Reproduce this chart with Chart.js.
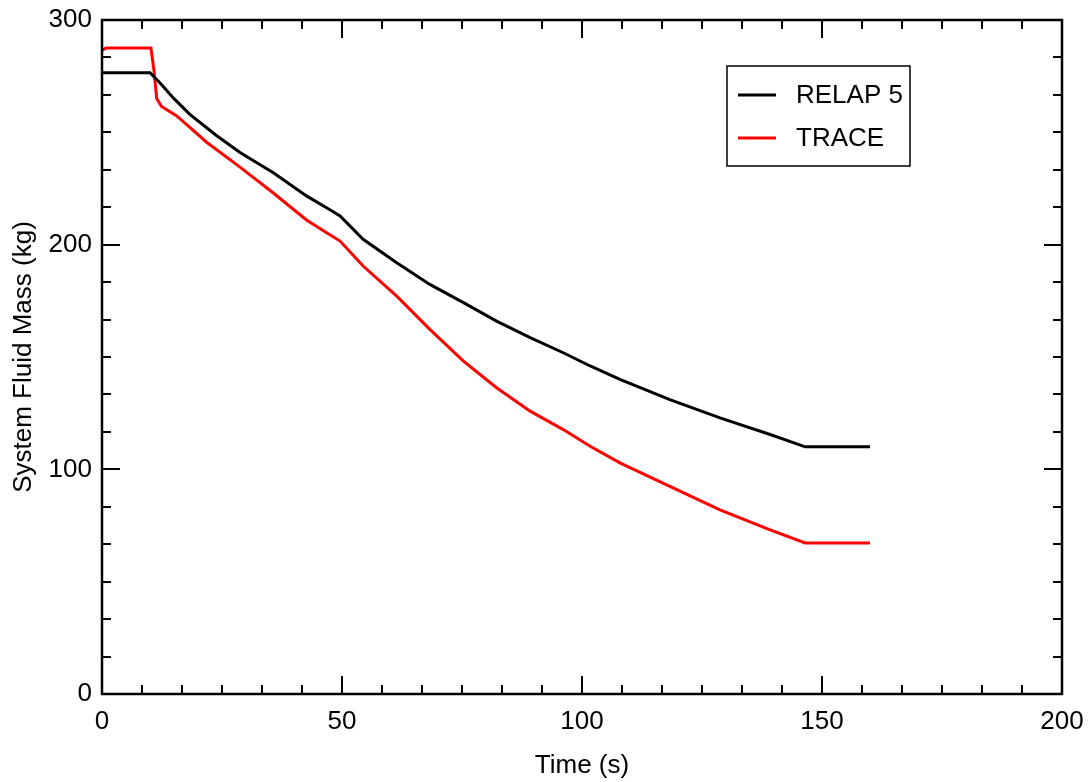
<!DOCTYPE html>
<html>
<head>
<meta charset="utf-8">
<script src="https://cdn.jsdelivr.net/npm/chart.js@4/dist/chart.umd.min.js"></script>
<style>
  html, body { margin: 0; padding: 0; background: #fff; }
  #wrap { width: 1089px; height: 782px; }
</style>
</head>
<body>
<div id="wrap"><canvas id="c" width="1089" height="782"></canvas></div>
<script>
// System fluid mass inventory vs. time, two code predictions
const relapTime = [0, 10, 12.1, 15, 18.3, 23.9, 28.75, 35.7, 42.6, 47.3, 49.6, 54.4, 61.4, 68.3, 75.3, 82.2, 89.2, 96.1, 101.7, 107.9, 118.3, 128.75, 139.2, 146.5, 160];
const relapMass = [276.5, 276.5, 272, 265, 258, 248.5, 241, 232, 221.7, 215.8, 212.8, 202.4, 192, 182.3, 174.2, 166, 158.6, 151.9, 146, 140, 131, 122.9, 115.5, 110, 110];

const traceTime = [0, 0.8, 10.2, 10.8, 11.4, 12.4, 15.5, 18.3, 21.8, 28.75, 35.7, 42.6, 47.3, 49.6, 54.4, 61.4, 68.3, 75.3, 82.2, 89.2, 96.1, 101.7, 107.9, 118.3, 128.75, 139.2, 146.5, 160];
const traceMass = [286.5, 287.5, 287.5, 278, 265, 261.5, 257.4, 252.2, 245.6, 234.5, 223, 211, 204.6, 201.6, 190.5, 177.1, 162.3, 148.2, 136.3, 125.9, 117.7, 110.3, 102.9, 92.4, 82, 73.1, 67.2, 67.2];

const seriesNames = ['RELAP 5', 'TRACE'];
const seriesColors = ['#000000', '#ff0000'];

const xTicks = [0, 50, 100, 150, 200];
const yTicks = [0, 100, 200, 300];

const FONT = "'Liberation Sans', Arial, sans-serif";

function toPoints(xs, ys) { return xs.map((x, i) => ({ x: x, y: ys[i] })); }

// Boxed frame with inward major/minor ticks on all four sides, plus the legend box
const framePlugin = {
  id: 'frame',
  afterDraw(chart) {
    const { ctx, chartArea: a, scales } = chart;
    const xs = scales.x, ys = scales.y;
    ctx.save();
    ctx.strokeStyle = '#000';
    ctx.lineWidth = 2;
    ctx.beginPath();
    const xMinorStep = 50 / 6;
    for (let i = 1; i < 24; i++) {
      const px = Math.round(xs.getPixelForValue(i * xMinorStep));
      const len = (i % 6 === 0) ? 18 : 9;
      ctx.moveTo(px, a.bottom); ctx.lineTo(px, a.bottom - len);
      ctx.moveTo(px, a.top); ctx.lineTo(px, a.top + len);
    }
    const yMinorStep = 100 / 6;
    for (let i = 1; i < 18; i++) {
      const py = Math.round(ys.getPixelForValue(i * yMinorStep));
      const len = (i % 6 === 0) ? 18 : 9;
      ctx.moveTo(a.left, py); ctx.lineTo(a.left + len, py);
      ctx.moveTo(a.right, py); ctx.lineTo(a.right - len, py);
    }
    ctx.stroke();
    ctx.lineWidth = 2.5;
    ctx.strokeRect(a.left, a.top, a.right - a.left, a.bottom - a.top);

    // legend box
    const bx = 727, by = 66, bw = 183, bh = 100;
    ctx.lineWidth = 1.5;
    ctx.strokeRect(bx, by, bw, bh);
    ctx.font = '26px ' + FONT;
    ctx.textBaseline = 'middle';
    ctx.textAlign = 'left';
    const rows = [95, 138];
    chart.data.datasets.forEach((ds, i) => {
      ctx.strokeStyle = ds.borderColor;
      ctx.lineWidth = 3;
      ctx.beginPath();
      ctx.moveTo(738, rows[i]); ctx.lineTo(776, rows[i]);
      ctx.stroke();
      ctx.fillStyle = '#000';
      ctx.fillText(ds.label, 796, rows[i] + 1);
    });
    ctx.restore();
  }
};

new Chart(document.getElementById('c'), {
  type: 'line',
  data: {
    datasets: [
      { label: seriesNames[0], data: toPoints(relapTime, relapMass), borderColor: seriesColors[0], borderWidth: 3, pointRadius: 0, tension: 0, fill: false },
      { label: seriesNames[1], data: toPoints(traceTime, traceMass), borderColor: seriesColors[1], borderWidth: 3, pointRadius: 0, tension: 0, fill: false }
    ]
  },
  options: {
    responsive: false,
    animation: false,
    devicePixelRatio: 1,
    layout: { padding: { left: 8, top: 20, right: 27, bottom: 0 } },
    plugins: { legend: { display: false }, tooltip: { enabled: false } },
    scales: {
      x: {
        type: 'linear', min: 0, max: 200,
        afterBuildTicks(s) { s.ticks = xTicks.map(v => ({ value: v })); },
        afterFit(s) { s.height = 88; s.paddingLeft = 0; s.paddingRight = 0; },
        grid: { display: false, drawTicks: false },
        border: { display: false },
        ticks: { color: '#000', padding: 12, font: { family: FONT, size: 26 }, maxRotation: 0 },
        title: { display: true, text: 'Time (s)', color: '#000', font: { family: FONT, size: 26 }, padding: { top: 0, bottom: 1 } }
      },
      y: {
        type: 'linear', min: 0, max: 300,
        afterBuildTicks(s) { s.ticks = yTicks.map(v => ({ value: v })); },
        afterFit(s) { s.width = 94; s.paddingTop = 0; s.paddingBottom = 0; },
        grid: { display: false, drawTicks: false },
        border: { display: false },
        ticks: { color: '#000', padding: 10, font: { family: FONT, size: 26 } },
        title: { display: true, text: 'System Fluid Mass (kg)', color: '#000', font: { family: FONT, size: 26 }, padding: { top: 0, bottom: 0 } }
      }
    }
  },
  plugins: [framePlugin]
});
</script>
</body>
</html>
